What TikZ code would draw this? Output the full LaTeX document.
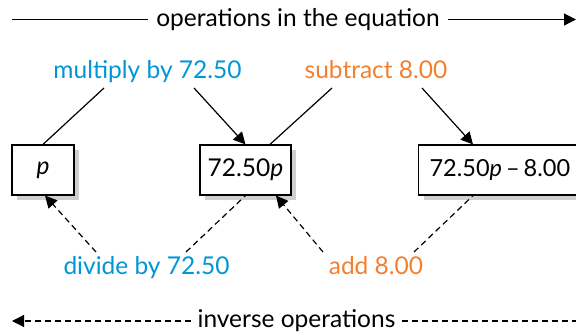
\documentclass[tikz,border=0pt]{standalone}
\usepackage{fontspec}
\setmainfont{Lato}
\usetikzlibrary{arrows.meta,shadows}
\definecolor{opblue}{HTML}{0096D6}
\definecolor{oporange}{HTML}{F47F2F}
\definecolor{shadowgray}{HTML}{CFCFCF}
\tikzset{
  conn/.style={line width=1.2pt, black},
  dconn/.style={conn, dash pattern=on 6pt off 4pt},
  tip/.style={-{Triangle[length=12pt,width=12pt]}},
  eqbox/.style={draw, line width=1.2pt, fill=white, minimum height=50pt, inner sep=0pt,
     drop shadow={shadow xshift=5pt, shadow yshift=-5pt, fill=shadowgray, opacity=1}},
  lab/.style={inner sep=0pt, anchor=base},
}
\begin{document}
\begin{tikzpicture}[x=1pt,y=1pt,font=\fontsize{24.5}{28}\selectfont]
\useasboundingbox (0,0) rectangle (576,335);
% top and bottom arrows
\node[anchor=base, inner xsep=8pt] (top) at (298,308) {operations in the equation};
\coordinate (tl) at (12,315.5);
\coordinate (tr) at (576,315.5);
\draw[conn] (tl) -- (tl -| top.west);
\draw[conn,tip] (tr -| top.east) -- (tr);
\node[anchor=base, inner xsep=6pt] (bot) at (296.5,8) {inverse operations};
\coordinate (bl) at (12,14);
\coordinate (br) at (576,14);
\draw[dconn,tip] (bl -| bot.west) -- (bl);
\draw[dconn] (bot.east |- br) -- (br);
% boxes
\node[eqbox, minimum width=62pt] (b1) at (43,165) {\itshape p};
\node[eqbox, minimum width=91pt] (b2) at (245.5,165) {72.50\textit{p}};
\node[eqbox, inner xsep=11pt, anchor=west, font=\fontsize{23.5}{28}\selectfont] (b3) at (418,165) {72.50\textit{p}\hspace{4pt}--\hspace{4pt}8.00};
% labels
\node[lab, text=opblue] (mul) at (147.5,256) {multiply by 72.50};
\node[lab, text=oporange] (sub) at (376,256) {subtract 8.00};
\node[lab, text=opblue] (div) at (146.5,60) {divide by 72.50};
\node[lab, text=oporange] (add) at (376,60) {add 8.00};
% connectors
\draw[conn] ([shift={(-43.5,-9)}]mul.base) -- (b1.north);
\draw[conn,tip] ([shift={(46.5,-9)}]mul.base) -- (b2.north);
\draw[conn] ([shift={(-44,-9)}]sub.base) -- ([xshift=24.5]b2.north);
\draw[conn,tip] ([shift={(46,-9)}]sub.base) -- ([xshift=55]b3.north west);
\draw[dconn,tip] ([shift={(-50.5,23)}]div.base) -- ([xshift=2]b1.south);
\draw[dconn] ([shift={(39.5,23)}]div.base) -- (b2.south);
\draw[dconn,tip] ([shift={(-53,23)}]add.base) -- ([xshift=30.5]b2.south);
\draw[dconn] ([shift={(38,23)}]add.base) -- ([xshift=55]b3.south west);
\end{tikzpicture}
\end{document}
